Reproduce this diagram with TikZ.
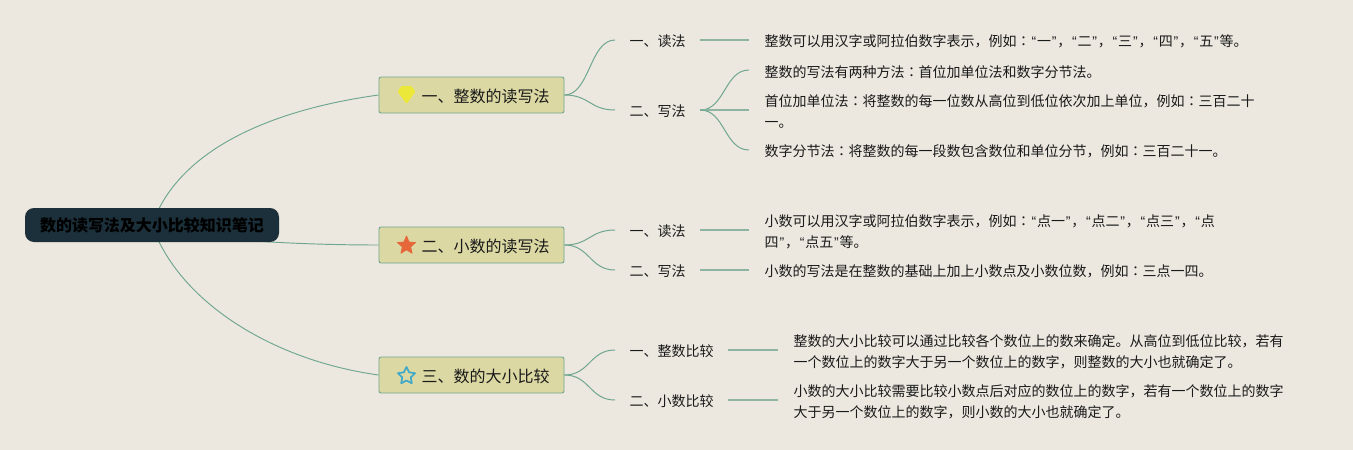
\documentclass[tikz,border=0pt]{standalone}
\usepackage{fontspec}
\setmainfont{Noto Sans CJK SC}
\newfontfamily\tcfont{Noto Sans CJK TC}
\newfontfamily\qfont{Liberation Sans}
\newcommand{\ql}{\makebox[6.3pt][c]{\qfont “}}
\newcommand{\qr}{\makebox[6.3pt][c]{\qfont ”}}
\newcommand{\cln}{{\tcfont ：}}
\newcommand{\firstlift}[1]{\rule{0pt}{#1pt}}
\usetikzlibrary{shapes.geometric,calc}
\pgfdeclarelayer{edges}
\pgfsetlayers{edges,main}
\definecolor{bgc}{HTML}{ECE8E0}
\definecolor{rootc}{HTML}{1B303A}
\definecolor{mainc}{HTML}{DBD8A3}
\definecolor{linec}{HTML}{6FA68F}
\definecolor{leafl}{HTML}{8DB5A2}
\definecolor{txt}{HTML}{1A1A1A}
\definecolor{gemc}{HTML}{ECE83A}
\definecolor{starr}{HTML}{E5673A}
\definecolor{starb}{HTML}{3FA8C8}
\tikzset{
 rootbox/.style={draw=none,fill=rootc,rounded corners=9pt,minimum width=254pt,minimum height=34pt,inner sep=0pt,font=\fontsize{16}{20}\selectfont\bfseries,text=black},
 mainbox/.style={draw=linec,line width=0.9pt,fill=mainc,rounded corners=2pt,minimum width=185pt,minimum height=36pt,inner sep=0pt,font=\fontsize{16}{20}\selectfont,text=txt,execute at begin node={\rule{0pt}{16pt}}},
 subbox/.style={anchor=west,inner xsep=13.5pt,inner ysep=2pt,font=\fontsize{14}{18}\selectfont,text=txt,execute at begin node={\rule{0pt}{14.4pt}}},
 leafbox/.style={anchor=west,inner xsep=15.5pt,inner ysep=0pt,align=left,font=\fontsize{14}{21}\selectfont,text=txt},
 bigline/.style={draw=linec,line width=0.95pt},
 midline/.style={draw=linec,line width=1pt},
 straightline/.style={draw=leafl,line width=1.4pt},
}
\newcommand{\scurve}[2]{\draw[midline] (#1) .. controls ($(#1)!0.5!(#2 |- #1)$) and ($(#2)!0.5!(#1 |- #2)$) .. (#2);}
\begin{document}
\begin{tikzpicture}[x=1pt,y=-1pt]
\useasboundingbox (0,0) rectangle (1353,450);
\begin{pgfonlayer}{edges}
\fill[bgc] (0,0) rectangle (1353,450);
\end{pgfonlayer}
\node[rootbox] (root) at (152,225) {数的读写法及大小比较知识笔记};
\node[mainbox] (m1) at (471.5,95) {\hspace*{28pt}一、整数的读写法};
\node[mainbox] (m2) at (471.5,245) {\hspace*{28pt}二、小数的读写法};
\node[mainbox] (m3) at (471.5,375) {\hspace*{28pt}三、数的大小比较};
% icons
\fill[gemc,rounded corners=1pt] (397.5,91.5) -- (401.5,86) -- (411.5,86) -- (415.5,91.5) -- (406.5,104) -- cycle;
\node[star,star points=5,star point ratio=2.2,fill=starr,draw=starr,line width=0.8pt,line join=round,minimum size=19pt,inner sep=0pt] (s2) at (406.5,245.5) {};
\node[star,star points=5,star point ratio=2.0,draw=starb,line width=1.7pt,line join=round,fill=none,minimum size=18pt,inner sep=0pt] (s3) at (406.5,376) {};
% subs
\node[subbox,minimum width=85pt] (a1) at (615,40) {一、读法};
\node[subbox,minimum width=85pt] (a2) at (615,110) {二、写法};
\node[subbox,minimum width=85pt] (b1) at (615,230) {一、读法};
\node[subbox,minimum width=85pt] (b2) at (615,270) {二、写法};
\node[subbox,minimum width=113pt] (c1) at (615,350) {一、整数比较};
\node[subbox,minimum width=113pt] (c2) at (615,400) {二、小数比较};
% leaves
\node[leafbox] (l1) at (749,40) {\firstlift{15.3}整数可以用汉字或阿拉伯数字表示，例如\cln\ql 一\qr ，\ql 二\qr ，\ql 三\qr ，\ql 四\qr ，\ql 五\qr 等。};
\node[leafbox] (l2) at (749,70) {\firstlift{15.3}整数的写法有两种方法\cln 首位加单位法和数字分节法。};
\node[leafbox] (l3) at (749,110) {\firstlift{15}首位加单位法\cln 将整数的每一位数从高位到低位依次加上单位，例如\cln 三百二十\\一。};
\node[leafbox] (l4) at (749,150) {\firstlift{15.3}数字分节法\cln 将整数的每一段数包含数位和单位分节，例如\cln 三百二十一。};
\node[leafbox] (l5) at (749,230) {\firstlift{16}小数可以用汉字或阿拉伯数字表示，例如\cln\ql 点一\qr ，\ql 点二\qr ，\ql 点三\qr ，\ql 点\\四\qr ，\ql 点五\qr 等。};
\node[leafbox] (l6) at (749,270) {\firstlift{15.3}小数的写法是在整数的基础上加上小数点及小数位数，例如\cln 三点一四。};
\node[leafbox] (l7) at (778,350) {\firstlift{16}整数的大小比较可以通过比较各个数位上的数来确定。从高位到低位比较，若有\\一个数位上的数字大于另一个数位上的数字，则整数的大小也就确定了。};
\node[leafbox] (l8) at (778,400) {\firstlift{16}小数的大小比较需要比较小数点后对应的数位上的数字，若有一个数位上的数字\\大于另一个数位上的数字，则小数的大小也就确定了。};
\begin{pgfonlayer}{edges}
\draw[bigline] (root.center) .. controls (178,150) and (270,110) .. (m1.west);
\draw[bigline] (root.center) .. controls (190,240) and (300,245) .. (m2.west);
\draw[bigline] (root.center) .. controls (178,300) and (270,360) .. (m3.west);
\scurve{m1.east}{a1.west}
\scurve{m1.east}{a2.west}
\scurve{m2.east}{b1.west}
\scurve{m2.east}{b2.west}
\scurve{m3.east}{c1.west}
\scurve{m3.east}{c2.west}
\draw[straightline] (a1.east) -- (l1.west);
\scurve{a2.east}{l2.west}
\draw[straightline] (a2.east) -- (l3.west);
\scurve{a2.east}{l4.west}
\draw[straightline] (b1.east) -- (l5.west);
\draw[straightline] (b2.east) -- (l6.west);
\draw[straightline] (c1.east) -- (l7.west);
\draw[straightline] (c2.east) -- (l8.west);
\end{pgfonlayer}
\end{tikzpicture}
\end{document}
